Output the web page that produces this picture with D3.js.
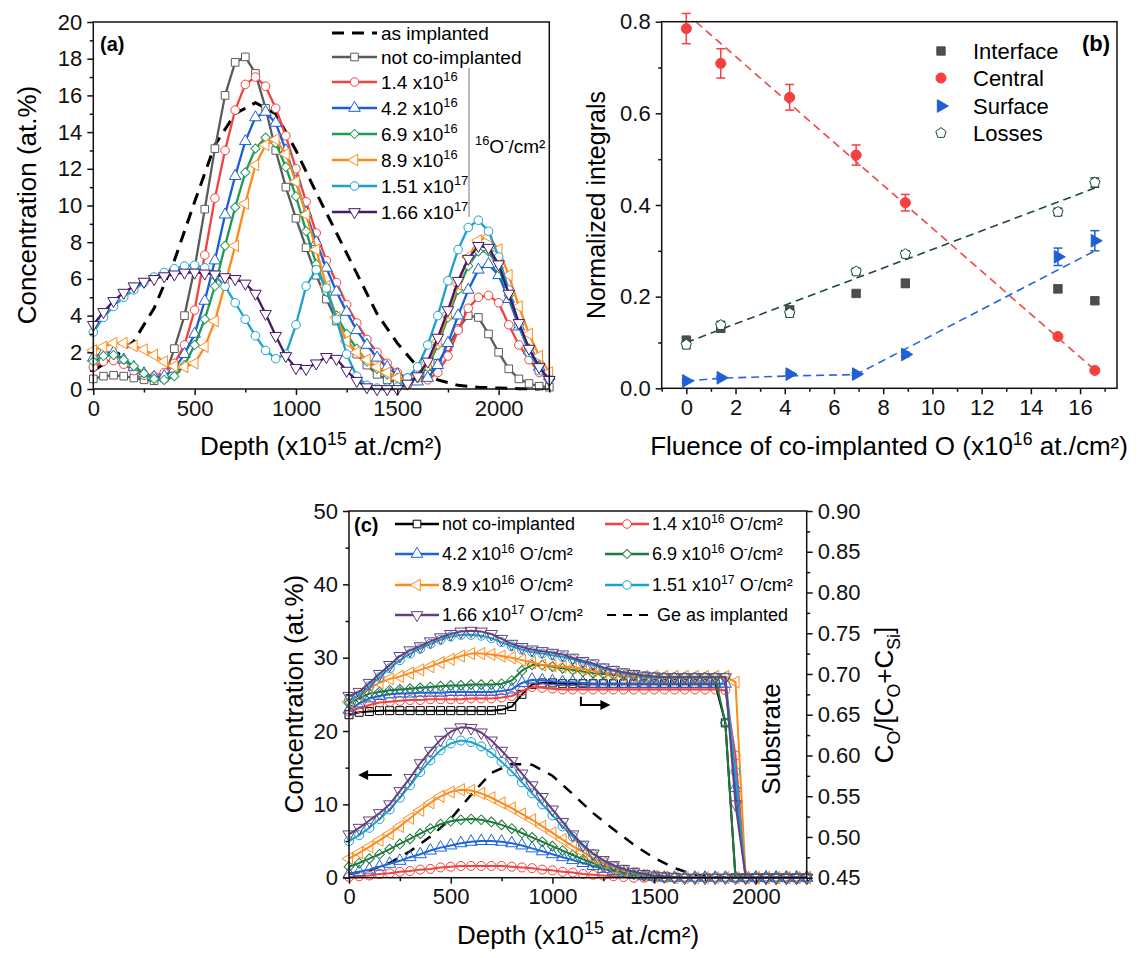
<!DOCTYPE html>
<html>
<head>
<meta charset="utf-8">
<script src="https://cdn.jsdelivr.net/npm/d3@7"></script>
<style>
  body { margin: 0; background: #fff; }
  svg { font-family: "Liberation Sans", Arial, sans-serif; }
  .axis line { stroke: #111; stroke-width: 1.5; }
  .axis text { font-family: "Liberation Sans", Arial, sans-serif; font-size: 22px; fill: #111; }
</style>
</head>
<body>
<svg id="fig" width="1141" height="958"></svg>
<script>
// ---------- panel (a): depth profiles ----------
var depth = [0,50,100,150,200,250,300,350,400,450,
  500,550,600,650,700,750,800,850,900,950,
  1000,1050,1100,1150,1200,1250,1300,1350,1400,1450,
  1500,1550,1600,1650,1700,1750,1800,1850,1900,1950,
  2000,2050,2100,2150,2200,2250];

var aImplDepth = [0,100,200,300,400,500,600,700,800,900,1000,1100,1200,1300,1400,1500,1600,1700,1800,1900,2000,2100,2200];
var aImpl = [1.0,1.7,2.6,4.4,7.0,10.2,13.3,15.0,15.6,15.0,13.0,10.7,8.5,6.3,4.1,2.5,1.2,0.5,0.2,0.1,0.05,0.02,0];

var aNotCo = [0.55,0.7,0.75,0.7,0.6,0.5,0.45,0.6,2.2,4.0,
  6.6,9.8,13.1,16.0,17.8,18.1,17.2,15.3,13.0,11.0,
  9.3,7.7,6.2,4.9,3.7,2.7,1.9,1.3,0.8,0.5,
  0.35,0.3,0.5,0.8,1.4,2.3,3.3,4.0,3.9,3.0,
  2.0,1.1,0.55,0.3,0.15,0.1];
var aO14 = [1.2,1.5,1.55,1.35,1.0,0.75,0.7,0.9,1.4,2.4,
  4.3,7.3,10.4,13.0,15.2,16.6,17.0,16.5,15.3,13.8,
  12.0,10.2,8.5,7.0,5.8,4.6,3.6,2.7,2.0,1.4,
  0.9,0.6,0.5,0.5,0.9,1.8,3.2,4.4,5.0,5.1,
  4.7,3.5,2.4,1.6,0.9,0.5];
var aO42 = [1.7,2.0,2.0,1.6,1.2,0.85,0.65,0.7,1.1,1.9,
  3.0,4.8,7.0,9.5,11.6,13.5,14.8,15.1,14.5,13.0,
  11.3,9.6,8.0,6.6,5.3,4.2,3.2,2.4,1.7,1.2,
  0.8,0.5,0.4,0.6,1.3,2.5,4.0,5.4,6.5,6.8,
  6.2,4.9,3.4,2.1,1.2,0.7];
var aO69 = [1.5,1.8,1.85,1.6,1.25,0.85,0.55,0.5,0.7,1.3,
  2.4,3.8,5.6,7.8,9.9,11.8,13.1,13.7,13.4,12.1,
  10.5,8.6,6.8,5.3,4.0,3.0,2.2,1.5,1.1,0.8,
  0.6,0.5,0.6,1.2,2.4,3.9,5.4,6.7,7.5,7.5,
  6.6,5.1,3.5,2.2,1.2,0.6];
var aO89 = [2.1,2.3,2.5,2.5,2.35,2.15,1.85,1.5,1.25,1.2,
  1.4,2.3,3.7,5.7,7.8,10.1,12.2,13.3,13.6,12.8,
  11.3,9.5,7.6,5.6,3.9,2.6,2.0,1.6,1.2,0.9,
  0.6,0.5,0.7,1.4,2.6,4.1,5.7,7.2,8.1,8.3,
  7.6,6.2,4.5,3.0,1.8,0.9];
var aO151 = [3.1,3.9,4.5,5.0,5.4,5.8,6.1,6.35,6.55,6.7,
  6.75,6.6,6.2,5.6,4.7,3.8,2.9,2.1,1.65,1.9,
  3.5,5.6,6.5,5.5,3.8,1.9,0.7,0.2,0.05,0.05,
  0.1,0.6,1.2,2.4,4.0,5.9,7.6,8.8,9.2,8.6,
  7.2,5.4,3.5,2.0,1.0,0.5];
var aO166 = [3.5,4.2,4.8,5.25,5.6,5.85,6.0,6.15,6.25,6.35,
  6.35,6.3,6.25,6.1,6.0,5.75,5.2,4.1,2.9,1.8,
  1.15,1.1,1.4,1.75,1.65,1.0,0.45,0.1,0,0,
  0,0.3,0.7,1.5,2.8,4.3,5.9,7.1,7.8,7.7,
  6.8,5.2,3.6,2.2,1.2,0.5];

var aXTicks = [0,500,1000,1500,2000], aXMinor = [250,750,1250,1750,2250];
var aYTicks = [0,2,4,6,8,10,12,14,16,18,20], aYMinor = [1,3,5,7,9,11,13,15,17,19];

// ---------- panel (b): normalized integrals ----------
var bFluence = [0,1.4,4.2,6.9,8.9,15.1,16.6];
var bInterface = [0.105,0.131,0.171,0.207,0.229,0.217,0.191];
var bInterfaceErr = [0.008,0.008,0.008,0.006,0.009,0.008,0.006];
var bCentral = [0.785,0.709,0.635,0.509,0.405,0.113,0.039];
var bCentralErr = [0.033,0.032,0.028,0.022,0.018,0.004,0.004];
var bSurface = [0.016,0.023,0.031,0.031,0.074,0.287,0.322];
var bSurfaceErr = [0.003,0.003,0.003,0.003,0.005,0.019,0.022];
var bLosses = [0.095,0.138,0.164,0.255,0.293,0.385,0.449];
var bLossesErr = [0.008,0.008,0.008,0.007,0.007,0.008,0.01];
var bCentralFitX = [0,16.6], bCentralFitY = [0.818,0.040];
var bLossesFitX = [0,16.6], bLossesFitY = [0.100,0.437];
var bSurfaceFitX = [0,1.4,4.2,6.9,16.6], bSurfaceFitY = [0.016,0.022,0.027,0.030,0.300];
var bXTicks = [0,2,4,6,8,10,12,14,16], bXMinor = [-1,1,3,5,7,9,11,13,15,17];
var bYTicks = [0,0.2,0.4,0.6,0.8], bYMinor = [0.1,0.3,0.5,0.7];

// ---------- panel (c): O concentration and ratio ----------
var cNotCoR = [0.650,0.653,0.654,0.655,0.655,0.655,0.655,0.655,0.655,0.655,
  0.655,0.655,0.655,0.655,0.655,0.656,0.660,0.675,0.687,0.689,
  0.689,0.688,0.688,0.688,0.688,0.688,0.688,0.688,0.688,0.688,
  0.688,0.688,0.688,0.688,0.688,0.688,0.688,0.640,0.45,0.45,
  0.45,0.45,0.45,0.45,0.45,0.45];
var cO14R = [0.654,0.658,0.662,0.665,0.666,0.667,0.668,0.668,0.669,0.669,
  0.669,0.669,0.670,0.670,0.670,0.671,0.673,0.679,0.684,0.683,
  0.682,0.681,0.681,0.681,0.681,0.681,0.681,0.681,0.681,0.681,
  0.681,0.681,0.681,0.681,0.681,0.681,0.681,0.680,0.60,0.45,
  0.45,0.45,0.45,0.45,0.45,0.45];
var cO42R = [0.656,0.664,0.670,0.673,0.675,0.676,0.676,0.677,0.677,0.677,
  0.678,0.678,0.678,0.678,0.678,0.679,0.681,0.689,0.693,0.692,
  0.691,0.690,0.690,0.689,0.688,0.688,0.688,0.688,0.688,0.688,
  0.688,0.688,0.688,0.688,0.688,0.688,0.688,0.688,0.56,0.45,
  0.45,0.45,0.45,0.45,0.45,0.45];
var cO69R = [0.664,0.670,0.676,0.678,0.680,0.681,0.682,0.683,0.684,0.685,
  0.686,0.686,0.687,0.687,0.687,0.688,0.692,0.704,0.711,0.711,
  0.709,0.707,0.705,0.703,0.701,0.700,0.699,0.698,0.697,0.696,
  0.696,0.696,0.696,0.696,0.696,0.696,0.696,0.640,0.45,0.45,
  0.45,0.45,0.45,0.45,0.45,0.45];
var cO89R = [0.666,0.674,0.683,0.689,0.694,0.697,0.701,0.705,0.709,0.714,
  0.718,0.722,0.725,0.725,0.724,0.722,0.720,0.717,0.714,0.711,
  0.710,0.709,0.708,0.706,0.704,0.702,0.700,0.698,0.697,0.697,
  0.697,0.697,0.697,0.697,0.697,0.697,0.697,0.697,0.690,0.45,
  0.45,0.45,0.45,0.45,0.45,0.45];
var cO151R = [0.668,0.674,0.685,0.696,0.707,0.717,0.725,0.731,0.737,0.742,
  0.746,0.748,0.748,0.747,0.744,0.739,0.734,0.730,0.727,0.725,
  0.723,0.721,0.718,0.714,0.711,0.707,0.704,0.701,0.699,0.697,
  0.696,0.696,0.696,0.696,0.696,0.696,0.696,0.696,0.58,0.45,
  0.45,0.45,0.45,0.45,0.45,0.45];
var cO166R = [0.673,0.678,0.689,0.700,0.711,0.722,0.729,0.734,0.740,0.745,
  0.749,0.752,0.753,0.752,0.749,0.743,0.737,0.733,0.730,0.728,
  0.726,0.724,0.720,0.716,0.713,0.708,0.705,0.702,0.700,0.698,
  0.697,0.696,0.696,0.696,0.696,0.696,0.696,0.696,0.54,0.45,
  0.45,0.45,0.45,0.45,0.45,0.45];

var cO14C = [0.1,0.2,0.3,0.5,0.6,0.8,0.9,1.1,1.2,1.4,
  1.5,1.6,1.6,1.6,1.6,1.6,1.5,1.4,1.3,1.1,
  1.0,0.8,0.7,0.5,0.4,0.3,0.2,0.1,0,0,
  0,0,0,0,0,0,0,0,0,0,
  0,0,0,0,0,0];
var cO42C = [0.5,0.8,1.1,1.5,1.9,2.3,2.8,3.2,3.7,4.1,
  4.4,4.7,4.9,5.0,5.0,4.9,4.7,4.4,4.0,3.6,
  3.2,2.8,2.4,2.0,1.6,1.2,0.9,0.6,0.4,0.2,
  0.1,0,0,0,0,0,0,0,0,0,
  0,0,0,0,0,0];
var cO69C = [1.5,2.0,2.6,3.2,3.9,4.6,5.3,6.0,6.7,7.3,
  7.7,7.9,8.0,7.9,7.6,7.2,6.7,6.1,5.5,4.9,
  4.3,3.7,3.1,2.5,2.0,1.5,1.1,0.7,0.4,0.2,
  0.1,0,0,0,0,0,0,0,0,0,
  0,0,0,0,0,0];
var cO89C = [2.6,3.4,4.2,5.1,6.0,7.0,8.1,9.2,10.2,11.1,
  11.7,12.0,11.9,11.5,10.9,10.2,9.5,8.7,7.9,7.0,
  6.1,5.2,4.3,3.5,2.7,2.0,1.4,0.9,0.6,0.3,
  0.2,0.1,0,0,0,0,0,0,0,0,
  0,0,0,0,0,0];
var cO151C = [5.0,5.8,6.8,8.0,9.3,10.9,12.6,14.4,16.0,17.4,
  18.3,18.7,18.5,17.9,17.0,15.8,14.5,13.0,11.5,10.0,
  8.5,7.0,5.6,4.3,3.2,2.3,1.6,1.1,0.7,0.4,
  0.2,0.1,0,0,0,0,0,0,0,0,
  0,0,0,0,0,0];
var cO166C = [5.9,6.8,7.8,8.8,10.0,11.8,13.6,15.6,17.3,18.8,
  19.9,20.5,20.4,19.8,18.7,17.3,15.9,14.2,12.6,11.0,
  9.3,7.6,5.9,4.5,3.3,2.4,1.7,1.2,0.8,0.5,
  0.3,0.2,0.1,0,0,0,0,0,0,0,
  0,0,0,0,0,0];
var cGeDepth = [0,100,200,300,400,500,600,700,800,900,1000,1100,1200,1300,1400,1500,1600,1700,1800,1900];
var cGe = [0.5,1.0,2.0,3.6,5.6,8.0,11.3,14.3,15.5,15.4,13.9,11.4,8.8,6.6,4.5,2.7,1.3,0.4,0.1,0];

var cXTicks = [0,500,1000,1500,2000], cXMinor = [250,750,1250,1750,2250];
var cYTicks = [0,10,20,30,40,50], cYMinor = [5,15,25,35,45];
var cRTicks = [0.45,0.50,0.55,0.60,0.65,0.70,0.75,0.80,0.85,0.90];
var cRMinor = [0.475,0.525,0.575,0.625,0.675,0.725,0.775,0.825,0.875];

// ---------- helpers ----------
var fig = d3.select("#fig");

function markerPath(type, size) {
  if (type == "pentagon") {
    var r = Math.sqrt(size / 2.38), p = d3.path();
    for (var k = 0; k < 5; k++) {
      var a = -Math.PI / 2 + k * 2 * Math.PI / 5;
      if (k == 0) p.moveTo(r * Math.cos(a), r * Math.sin(a));
      else p.lineTo(r * Math.cos(a), r * Math.sin(a));
    }
    p.closePath();
    return p.toString();
  }
  var s = {square: d3.symbolSquare, circle: d3.symbolCircle, diamond: d3.symbolSquare}[type] || d3.symbolTriangle;
  if (type == "diamond") size = size * 0.75;
  return d3.symbol(s, size)();
}
function markerRot(type) {
  return {diamond: 45, triLeft: -90, triDown: 180, triRight: 90}[type] || 0;
}

// text with super/subscripts
function rich(sel, parts, fs) {
  var shift = 0;
  parts.forEach(function(p) {
    var target = p[1] == "sup" ? -0.4 * fs : p[1] == "sub" ? 0.28 * fs : 0;
    var ts = sel.append("tspan").attr("dy", target - shift).text(p[0]);
    if (p[1]) ts.attr("font-size", fs * 0.68);
    shift = target;
  });
  return sel;
}

function drawAxes(g, x, y, o) {
  var r = x.range(), ry = y.range();
  g.append("g").attr("class", "axis").attr("transform", "translate(0," + ry[0] + ")")
    .call(d3.axisBottom(x).tickValues(o.xt).tickSize(6).tickPadding(5).tickFormat(o.xf))
    .call(function(s) { s.select(".domain").remove(); });
  g.append("g").attr("class", "axis").attr("transform", "translate(0," + ry[0] + ")")
    .call(d3.axisBottom(x).tickValues(o.xm).tickSize(3.5).tickFormat(""))
    .call(function(s) { s.select(".domain").remove(); });
  g.append("g").attr("class", "axis").attr("transform", "translate(" + r[0] + ",0)")
    .call(d3.axisLeft(y).tickValues(o.yt).tickSize(6).tickPadding(5).tickFormat(o.yf))
    .call(function(s) { s.select(".domain").remove(); });
  g.append("g").attr("class", "axis").attr("transform", "translate(" + r[0] + ",0)")
    .call(d3.axisLeft(y).tickValues(o.ym).tickSize(3.5).tickFormat(""))
    .call(function(s) { s.select(".domain").remove(); });
  g.append("rect")
    .attr("x", r[0]).attr("y", ry[1])
    .attr("width", r[1] - r[0]).attr("height", ry[0] - ry[1])
    .attr("fill", "none").attr("stroke", "#111").attr("stroke-width", 1.5);
}

function drawSeries(g, xs, ys, xv, yv, color, type, size, fill, width) {
  var line = d3.line().x(function(d, i) { return xs(xv[i]); }).y(function(d) { return ys(d); });
  g.append("path").attr("d", line(yv))
    .attr("fill", "none").attr("stroke", color).attr("stroke-width", width)
    .attr("stroke-linejoin", "round");
  if (!type) return;
  g.selectAll(null).data(yv).join("path")
    .attr("d", markerPath(type, size))
    .attr("transform", function(d, i) { return "translate(" + xs(xv[i]) + "," + ys(d) + ") rotate(" + markerRot(type) + ")"; })
    .attr("fill", fill).attr("stroke", color).attr("stroke-width", 1);
}

// ============ (a) ============
var ga = fig.append("g");
var xa = d3.scaleLinear().domain([0, 2250]).range([93.3, 549.3]);
var ya = d3.scaleLinear().domain([0, 20]).range([389, 22]);

var aSeries = [
  {label: [["not co-implanted"]], v: aNotCo, color: "#5b5b5b", sym: "square"},
  {label: [["1.4 x10"], ["16", "sup"]], v: aO14, color: "#f4413f", sym: "circle"},
  {label: [["4.2 x10"], ["16", "sup"]], v: aO42, color: "#1a5fd6", sym: "triUp"},
  {label: [["6.9 x10"], ["16", "sup"]], v: aO69, color: "#1f9a55", sym: "diamond"},
  {label: [["8.9 x10"], ["16", "sup"]], v: aO89, color: "#ff8a1a", sym: "triLeft"},
  {label: [["1.51 x10"], ["17", "sup"]], v: aO151, color: "#19a3cc", sym: "circle"},
  {label: [["1.66 x10"], ["17", "sup"]], v: aO166, color: "#45186b", sym: "triDown"}
];

var implLine = d3.line().x(function(d, i) { return xa(aImplDepth[i]); }).y(function(d) { return ya(d); });
ga.append("path").attr("d", implLine(aImpl)).attr("fill", "none")
  .attr("stroke", "#000").attr("stroke-width", 3).attr("stroke-dasharray", "12,8");

aSeries.forEach(function(s) {
  drawSeries(ga, xa, ya, depth, s.v, s.color, s.sym, 58, "#fff", 2.3);
});
drawAxes(ga, xa, ya, {xt: aXTicks, xm: aXMinor, yt: aYTicks, ym: aYMinor, xf: d3.format("d"), yf: d3.format("d")});

ga.append("text").attr("x", 100).attr("y", 51).attr("font-size", 20).attr("font-weight", "bold").text("(a)");

// legend (a)
var aLegY = [33, 57, 82, 108, 134, 160, 186, 212];
var la = ga.append("g");
la.append("line").attr("x1", 332).attr("x2", 377).attr("y1", aLegY[0]).attr("y2", aLegY[0])
  .attr("stroke", "#000").attr("stroke-width", 3).attr("stroke-dasharray", "12,8");
la.append("text").attr("x", 381).attr("y", aLegY[0] + 7).attr("font-size", 19).text("as implanted");
aSeries.forEach(function(s, i) {
  var y = aLegY[i + 1];
  la.append("line").attr("x1", 332).attr("x2", 377).attr("y1", y).attr("y2", y)
    .attr("stroke", s.color).attr("stroke-width", 2.5);
  la.append("path").attr("d", markerPath(s.sym, 58))
    .attr("transform", "translate(354.5," + y + ") rotate(" + markerRot(s.sym) + ")")
    .attr("fill", "#fff").attr("stroke", s.color).attr("stroke-width", 1);
  rich(la.append("text").attr("x", 381).attr("y", y + 7).attr("font-size", 19), s.label, 19);
});
la.append("line").attr("x1", 469).attr("x2", 469).attr("y1", 68).attr("y2", 217)
  .attr("stroke", "#777").attr("stroke-width", 1);
rich(la.append("text").attr("x", 475).attr("y", 153).attr("font-size", 19),
  [["16", "sup"], ["O"], ["-", "sup"], ["/cm²"]], 19);

ga.append("text").attr("x", 321).attr("y", 455).attr("text-anchor", "middle").attr("font-size", 26)
  .call(function(t) { rich(t, [["Depth (x10"], ["15", "sup"], [" at./cm²)"]], 26); });
ga.append("text").attr("transform", "translate(36,205) rotate(-90)").attr("text-anchor", "middle")
  .attr("font-size", 26).text("Concentration (at.%)");

// ============ (b) ============
var gb = fig.append("g");
var xb = d3.scaleLinear().domain([-1, 17.5]).range([661.7, 1117]);
var yb = d3.scaleLinear().domain([0, 0.8]).range([388.3, 21.7]);

gb.append("clipPath").attr("id", "clipb").append("rect")
  .attr("x", 661.7).attr("y", 21.7).attr("width", 1117 - 661.7).attr("height", 388.3 - 21.7);

function fitLine(xv, yv, color) {
  var l = d3.line().x(function(d, i) { return xb(xv[i]); }).y(function(d) { return yb(d); });
  gb.append("path").attr("d", l(yv)).attr("clip-path", "url(#clipb)")
    .attr("fill", "none").attr("stroke", color).attr("stroke-width", 1.6).attr("stroke-dasharray", "8,5");
}
fitLine(bCentralFitX, bCentralFitY, "#f04848");
fitLine(bLossesFitX, bLossesFitY, "#1d4a3c");
fitLine(bSurfaceFitX, bSurfaceFitY, "#2166d9");

var bSeries = [
  {name: "Interface", v: bInterface, e: bInterfaceErr, color: "#4d4d4d", sym: "square", size: 70, fill: "#4d4d4d"},
  {name: "Central", v: bCentral, e: bCentralErr, color: "#f44040", sym: "circle", size: 80, fill: "#f44040"},
  {name: "Surface", v: bSurface, e: bSurfaceErr, color: "#1f5fd6", sym: "triRight", size: 70, fill: "#1f5fd6"},
  {name: "Losses", v: bLosses, e: bLossesErr, color: "#1d4a3c", sym: "pentagon", size: 70, fill: "#fff"}
];
bSeries.forEach(function(s) {
  var eg = gb.append("g").attr("stroke", s.color).attr("stroke-width", 1.5);
  s.v.forEach(function(v, i) {
    var x = xb(bFluence[i]), y1 = yb(v - s.e[i]), y2 = yb(v + s.e[i]);
    eg.append("line").attr("x1", x).attr("x2", x).attr("y1", y1).attr("y2", y2);
    eg.append("line").attr("x1", x - 4.5).attr("x2", x + 4.5).attr("y1", y1).attr("y2", y1);
    eg.append("line").attr("x1", x - 4.5).attr("x2", x + 4.5).attr("y1", y2).attr("y2", y2);
  });
  gb.selectAll(null).data(s.v).join("path")
    .attr("d", markerPath(s.sym, s.size))
    .attr("transform", function(d, i) { return "translate(" + xb(bFluence[i]) + "," + yb(d) + ") rotate(" + markerRot(s.sym) + ")"; })
    .attr("fill", s.fill).attr("stroke", s.color).attr("stroke-width", 1);
});
drawAxes(gb, xb, yb, {xt: bXTicks, xm: bXMinor, yt: bYTicks, ym: bYMinor, xf: d3.format("d"), yf: d3.format(".1f")});

var bLegY = [51, 78, 106, 133];
bSeries.forEach(function(s, i) {
  gb.append("path").attr("d", markerPath(s.sym, s.size))
    .attr("transform", "translate(941," + bLegY[i] + ") rotate(" + markerRot(s.sym) + ")")
    .attr("fill", s.fill).attr("stroke", s.color).attr("stroke-width", 1);
  gb.append("text").attr("x", 973).attr("y", bLegY[i] + 8).attr("font-size", 22).text(s.name);
});
gb.append("text").attr("x", 1082).attr("y", 51).attr("font-size", 22).attr("font-weight", "bold").text("(b)");

gb.append("text").attr("x", 889).attr("y", 455).attr("text-anchor", "middle").attr("font-size", 26)
  .call(function(t) { rich(t, [["Fluence of co-implanted O (x10"], ["16", "sup"], [" at./cm²)"]], 26); });
gb.append("text").attr("transform", "translate(605,205) rotate(-90)").attr("text-anchor", "middle")
  .attr("font-size", 25).text("Normalized integrals");

// ============ (c) ============
var gc = fig.append("g");
var xc = d3.scaleLinear().domain([0, 2250]).range([349, 806.7]);
var yc = d3.scaleLinear().domain([0, 50]).range([877.7, 511]);
var yr = d3.scaleLinear().domain([0.45, 0.90]).range([877.7, 511]);

var cSeries = [
  {label: [["not co-implanted"]], r: cNotCoR, c: null, color: "#000", sym: "square"},
  {label: [["1.4 x10"], ["16", "sup"], [" O"], ["-", "sup"], ["/cm²"]], r: cO14R, c: cO14C, color: "#f4413f", sym: "circle"},
  {label: [["4.2 x10"], ["16", "sup"], [" O"], ["-", "sup"], ["/cm²"]], r: cO42R, c: cO42C, color: "#2064d8", sym: "triUp"},
  {label: [["6.9 x10"], ["16", "sup"], [" O"], ["-", "sup"], ["/cm²"]], r: cO69R, c: cO69C, color: "#1d7a3c", sym: "diamond"},
  {label: [["8.9 x10"], ["16", "sup"], [" O"], ["-", "sup"], ["/cm²"]], r: cO89R, c: cO89C, color: "#ff8a1a", sym: "triLeft"},
  {label: [["1.51 x10"], ["17", "sup"], [" O"], ["-", "sup"], ["/cm²"]], r: cO151R, c: cO151C, color: "#1aa2cf", sym: "circle"},
  {label: [["1.66 x10"], ["17", "sup"], [" O"], ["-", "sup"], ["/cm²"]], r: cO166R, c: cO166C, color: "#65407f", sym: "triDown"}
];

var geLine = d3.line().x(function(d, i) { return xc(cGeDepth[i]); }).y(function(d) { return yc(d); });
gc.append("path").attr("d", geLine(cGe)).attr("fill", "none")
  .attr("stroke", "#000").attr("stroke-width", 2.5).attr("stroke-dasharray", "11,9");

cSeries.forEach(function(s) {
  drawSeries(gc, xc, yr, depth, s.r, s.color, s.sym, 64, "none", 2);
  if (s.c) drawSeries(gc, xc, yc, depth, s.c, s.color, s.sym, 64, "none", 2);
});

drawAxes(gc, xc, yc, {xt: cXTicks, xm: cXMinor, yt: cYTicks, ym: cYMinor, xf: d3.format("d"), yf: d3.format("d")});
gc.append("g").attr("class", "axis").attr("transform", "translate(806.7,0)")
  .call(d3.axisRight(yr).tickValues(cRTicks).tickSize(6).tickPadding(5).tickFormat(d3.format(".2f")))
  .call(function(s) { s.select(".domain").remove(); });
gc.append("g").attr("class", "axis").attr("transform", "translate(806.7,0)")
  .call(d3.axisRight(yr).tickValues(cRMinor).tickSize(3.5).tickFormat(""))
  .call(function(s) { s.select(".domain").remove(); });

gc.append("text").attr("x", 354).attr("y", 532).attr("font-size", 20).attr("font-weight", "bold").text("(c)");

// legend (c): two columns
var cLegRows = [524, 554, 585, 615], cLegCols = [395, 605];
var cLegItems = cSeries.map(function(s) { return s; }).concat([{label: [["Ge as implanted"]], dashed: true}]);
cLegItems.forEach(function(s, i) {
  var x0 = cLegCols[i % 2], y = cLegRows[Math.floor(i / 2)];
  if (s.dashed) {
    gc.append("line").attr("x1", x0 + 2).attr("x2", x0 + 44).attr("y1", y).attr("y2", y)
      .attr("stroke", "#000").attr("stroke-width", 2).attr("stroke-dasharray", "9,7");
    gc.append("text").attr("x", x0 + 52).attr("y", y + 6).attr("font-size", 18).text("Ge as implanted");
    return;
  }
  gc.append("line").attr("x1", x0).attr("x2", x0 + 44).attr("y1", y).attr("y2", y)
    .attr("stroke", s.color).attr("stroke-width", 2.5);
  gc.append("path").attr("d", markerPath(s.sym, 58))
    .attr("transform", "translate(" + (x0 + 22) + "," + y + ") rotate(" + markerRot(s.sym) + ")")
    .attr("fill", "#fff").attr("stroke", s.color).attr("stroke-width", 1);
  rich(gc.append("text").attr("x", x0 + 47).attr("y", y + 6).attr("font-size", 18), s.label, 18);
});

// arrows pointing to the axes
gc.append("line").attr("x1", xc(210)).attr("x2", xc(60)).attr("y1", yc(14)).attr("y2", yc(14))
  .attr("stroke", "#000").attr("stroke-width", 2);
gc.append("path").attr("d", "M" + (xc(45)) + "," + yc(14) + "l10,-5v10z").attr("fill", "#000");
gc.append("path").attr("d", "M" + xc(1140) + "," + yr(0.672) + "V" + yr(0.662) + "H" + xc(1260))
  .attr("fill", "none").attr("stroke", "#000").attr("stroke-width", 2);
gc.append("path").attr("d", "M" + xc(1285) + "," + yr(0.662) + "l-10,-5v10z").attr("fill", "#000");

gc.append("text").attr("transform", "translate(780,739) rotate(-90)").attr("text-anchor", "middle")
  .attr("font-size", 26).text("Substrate");

gc.append("text").attr("x", 578).attr("y", 944).attr("text-anchor", "middle").attr("font-size", 26)
  .call(function(t) { rich(t, [["Depth (x10"], ["15", "sup"], [" at./cm²)"]], 26); });
gc.append("text").attr("transform", "translate(303,694) rotate(-90)").attr("text-anchor", "middle")
  .attr("font-size", 26).text("Concentration (at.%)");
gc.append("text").attr("transform", "translate(893,695) rotate(-90)").attr("text-anchor", "middle")
  .attr("font-size", 26)
  .call(function(t) { rich(t, [["C"], ["O", "sub"], ["/[C"], ["O", "sub"], ["+C"], ["Si", "sub"], ["]"]], 26); });
</script>
</body>
</html>
